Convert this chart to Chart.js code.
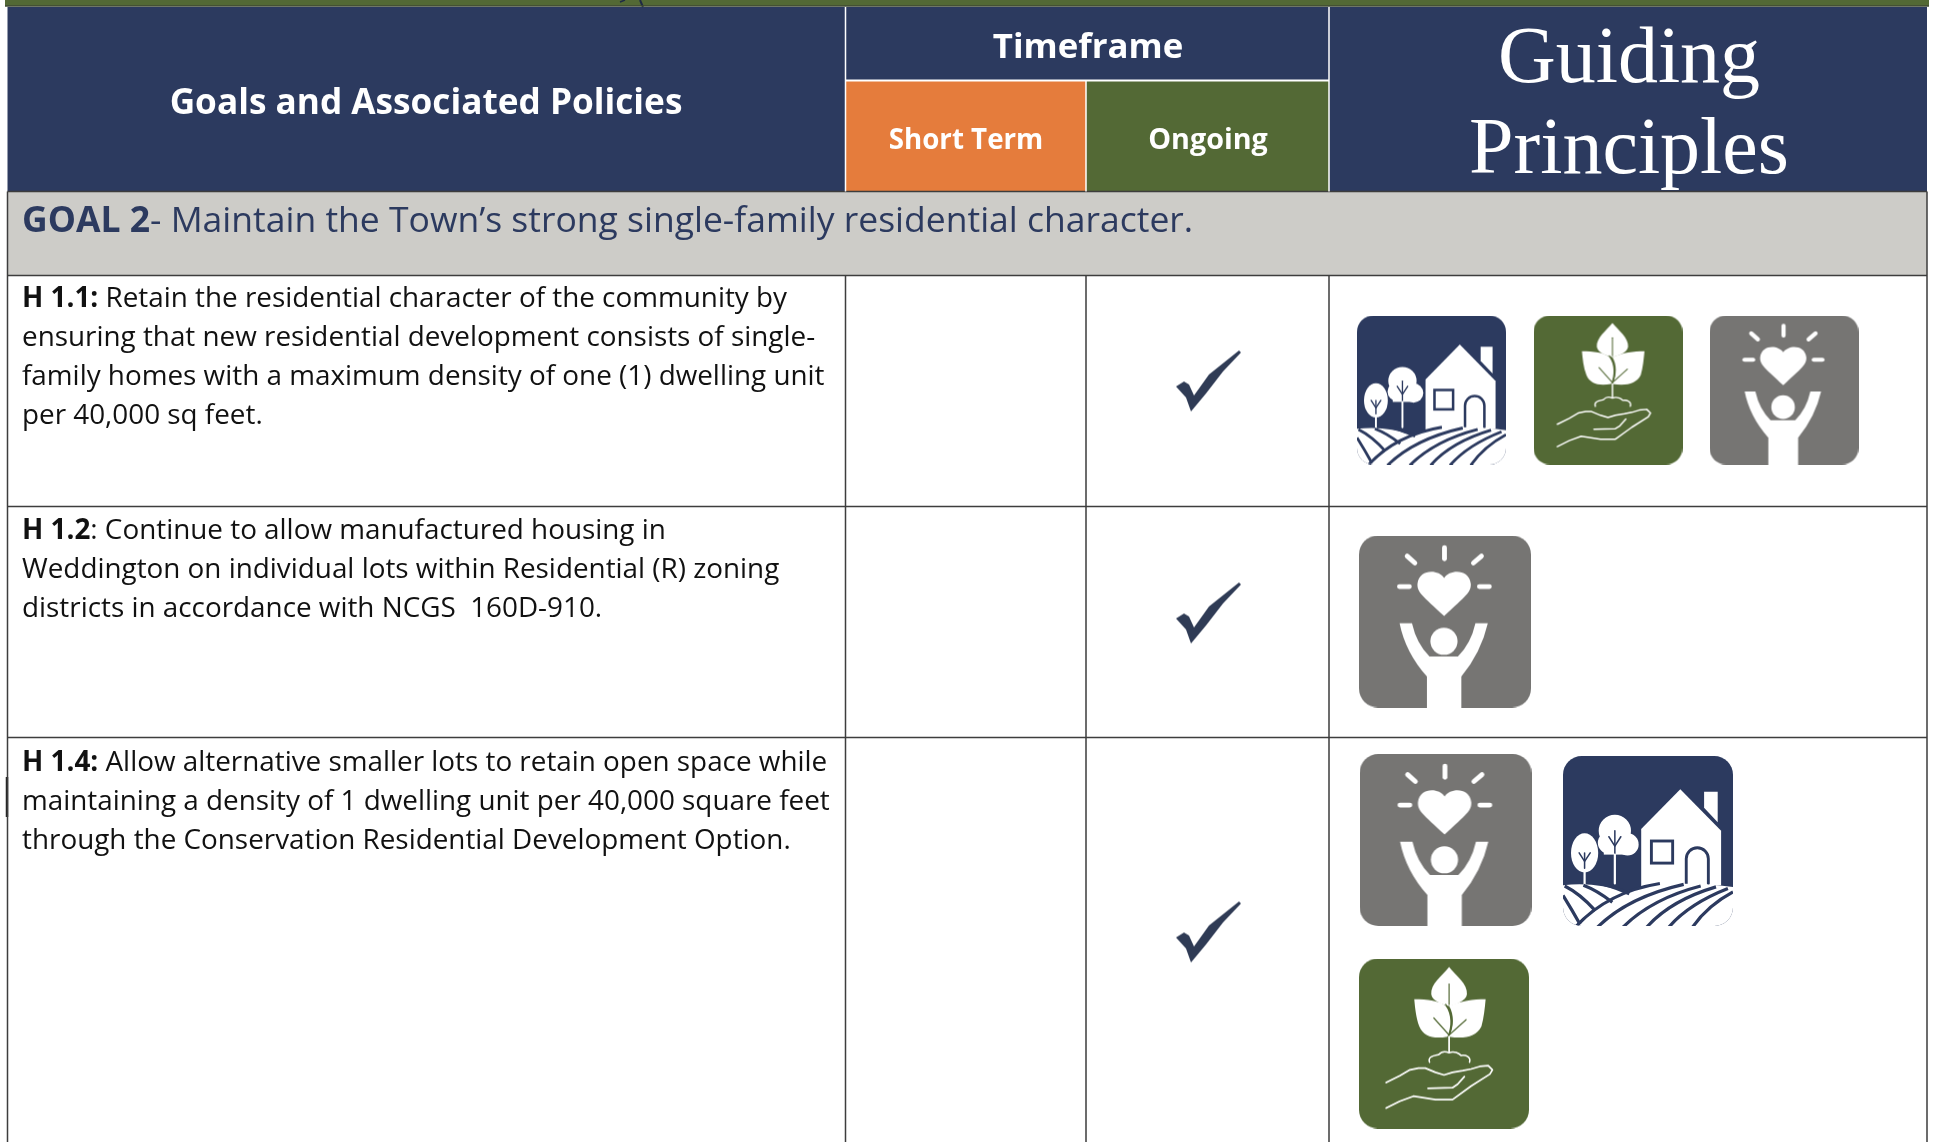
<!DOCTYPE html>
<html>
<head>
<meta charset="utf-8">
<title>Goals and Associated Policies</title>
<script src="https://cdn.jsdelivr.net/npm/chart.js@4"></script>
<style>
  html, body { margin: 0; padding: 0; background: #fff; }
  canvas { display: block; }
</style>
</head>
<body>
<canvas id="policyChart" width="1933" height="1142"></canvas>
<script>
// table content
const headerPolicies = "Goals and Associated Policies";
const headerTimeframe = "Timeframe";
const timeframeColumns = ["Short Term", "Ongoing"];
const headerPrinciples = ["Guiding", "Principles"];
const goalLabel = "GOAL 2";
const goalText = "- Maintain the Town\u2019s strong single-family residential character.";

const policyIds = ["H 1.1:", "H 1.2", "H 1.4:"];
const policyLines = [
  [" Retain the residential character of the community by",
   "ensuring that new residential development consists of single-",
   "family homes with a maximum density of one (1) dwelling unit",
   "per 40,000 sq feet."],
  [": Continue to allow manufactured housing in",
   "Weddington on individual lots within Residential (R) zoning",
   "districts in accordance with NCGS  160D-910."],
  [" Allow alternative smaller lots to retain open space while",
   "maintaining a density of 1 dwelling unit per 40,000 square feet",
   "through the Conservation Residential Development Option."]
];
// 1 = ticked
const shortTermChecks = [0, 0, 0];
const ongoingChecks = [1, 1, 1];
const policyPrinciples = [
  ["land", "growth", "people"],
  ["people"],
  ["people", "land", "growth"]
];

// layout, in page pixels
const colEdges = [7.5, 845.5, 1086, 1329, 1927];
const headerTop = 7, headerSplit = 80.5, headerBottom = 191.5, goalBottom = 275.5;
const rowEdges = [275.5, 506.5, 737.5, 1142];
const rowBaselines = [307, 539, 771];
const lineHeight = 39;
const checkY = [381, 613, 932];
// centre x, centre y, size of each icon, row by row
const iconBoxes = [
  [[1431.5, 390, 149], [1608, 390, 149], [1784, 390, 149]],
  [[1445, 621.5, 172]],
  [[1445.5, 840, 172], [1648, 841, 170], [1444, 1043.5, 170]]
];

const NAVY = "#2c3a5f", ORANGE = "#e57c3c", GREEN = "#536935", GOALGREY = "#cdccc8",
      ICONGREY = "#767573", RULE = "#3d3d3d", CHECK = "#2f3b55";
const BODY_FONT = '"Open Sans"';

function rectPoints(x0, y0, x1, y1) {
  return [{x: x0, y: y0}, {x: x1, y: y0}, {x: x1, y: y1}, {x: x0, y: y1}, {x: x0, y: y0}];
}
function cellDataset(x0, y0, x1, y1, color) {
  return { data: rectPoints(x0, y0, x1, y1), showLine: true, fill: "shape", backgroundColor: color,
           borderWidth: 0, borderColor: color, pointRadius: 0, order: 3 };
}
function ruleDataset(x0, y0, x1, y1, color, width) {
  return { data: [{x: x0, y: y0}, {x: x1, y: y1}], showLine: true, fill: false,
           borderColor: color, borderWidth: width, pointRadius: 0, order: 2 };
}

// offscreen drawings used as point styles
function makeSprite(w, h, draw) {
  const c = document.createElement("canvas");
  c.width = w; c.height = h;
  draw(c.getContext("2d"));
  return c;
}
function roundedPath(g, r) {
  g.beginPath();
  g.roundRect(0, 0, 100, 100, r);
}
function strokeLine(g, pts, width, color) {
  g.strokeStyle = color; g.lineWidth = width; g.lineCap = "round"; g.lineJoin = "round";
  g.beginPath();
  pts.forEach((p, i) => i ? g.lineTo(p[0], p[1]) : g.moveTo(p[0], p[1]));
  g.stroke();
}
function fillPoly(g, pts, color) {
  g.fillStyle = color;
  g.beginPath();
  pts.forEach((p, i) => i ? g.lineTo(p[0], p[1]) : g.moveTo(p[0], p[1]));
  g.closePath();
  g.fill();
}

function drawPeople(g) {
  roundedPath(g, 11); g.fillStyle = ICONGREY; g.fill();
  const w = "#fff";
  strokeLine(g, [[49.7, 7], [49.7, 13.5]], 2.8, w);
  strokeLine(g, [[28, 12], [32.5, 16]], 2.8, w);
  strokeLine(g, [[71.2, 12], [66.5, 16]], 2.8, w);
  strokeLine(g, [[23.5, 29.7], [29.3, 29.7]], 2.8, w);
  strokeLine(g, [[70, 29.7], [75.8, 29.7]], 2.8, w);
  // heart
  g.fillStyle = w;
  g.beginPath();
  g.moveTo(49.5, 24.7);
  g.bezierCurveTo(46, 19.5, 35, 19.5, 34, 28);
  g.bezierCurveTo(33.7, 33, 37, 35, 49.5, 46.8);
  g.bezierCurveTo(62, 35, 65.3, 33, 65, 28);
  g.bezierCurveTo(64, 19.5, 53, 19.5, 49.5, 24.7);
  g.fill();
  // person
  g.beginPath();
  g.arc(49.4, 61.5, 7.9, 0, Math.PI * 2);
  g.fill();
  g.beginPath();
  g.moveTo(23.6, 51);
  g.lineTo(30.8, 51);
  g.quadraticCurveTo(33.5, 63, 41, 70.3);
  g.lineTo(57.5, 70.3);
  g.quadraticCurveTo(65, 63, 67.7, 51);
  g.lineTo(74.9, 51);
  g.quadraticCurveTo(71, 68, 59.5, 82);
  g.lineTo(59.5, 100);
  g.lineTo(39.5, 100);
  g.lineTo(39.5, 82);
  g.quadraticCurveTo(27, 68, 23.6, 51);
  g.closePath();
  g.fill();
}

function drawGrowth(g) {
  roundedPath(g, 11); g.fillStyle = GREEN; g.fill();
  const w = "#fff";
  g.fillStyle = w;
  // top leaf
  g.beginPath();
  g.moveTo(53, 5);
  g.bezierCurveTo(57, 10, 64, 15, 63.5, 21);
  g.bezierCurveTo(63, 25, 57, 27, 53, 28);
  g.bezierCurveTo(49, 27, 43, 25, 42.5, 21);
  g.bezierCurveTo(42, 15, 49, 10, 53, 5);
  g.fill();
  // side leaves
  g.beginPath();
  g.moveTo(32.5, 24);
  g.bezierCurveTo(40, 24, 48, 25, 51, 28);
  g.bezierCurveTo(54.5, 33, 54.5, 40, 52, 46);
  g.bezierCurveTo(44, 47.5, 38, 46, 35.5, 40);
  g.bezierCurveTo(33.5, 35, 33, 29, 32.5, 24);
  g.fill();
  g.beginPath();
  g.moveTo(74.5, 24);
  g.bezierCurveTo(67, 24, 60, 25, 53, 28);
  g.bezierCurveTo(56, 33, 56, 40, 53, 46);
  g.bezierCurveTo(62, 47.5, 69, 46, 72, 40);
  g.bezierCurveTo(73.5, 35, 74, 29, 74.5, 24);
  g.fill();
  // veins and stem
  strokeLine(g, [[53, 15], [53, 27]], 0.7, GREEN);
  strokeLine(g, [[53, 45], [44, 35]], 0.7, GREEN);
  strokeLine(g, [[53, 45], [63, 36]], 0.7, GREEN);
  g.strokeStyle = GREEN; g.lineWidth = 0.7;
  g.beginPath(); g.moveTo(51, 27); g.quadraticCurveTo(57, 35, 53, 45); g.stroke();
  strokeLine(g, [[53, 46], [53, 55]], 1, w);
  // soil
  g.strokeStyle = w; g.lineWidth = 0.9;
  g.beginPath();
  g.moveTo(41.5, 61);
  g.bezierCurveTo(40, 57, 46, 57, 47, 56.5);
  g.bezierCurveTo(49, 54, 52, 55, 53, 55.5);
  g.bezierCurveTo(56, 54, 59, 56, 60, 57);
  g.bezierCurveTo(63, 56.5, 66, 58, 65, 61);
  g.stroke();
  // hand
  strokeLine(g, [[16, 73], [24, 69], [30, 65.5], [35, 64.5], [39, 64.5], [45, 67], [50, 68.5],
                 [55, 67], [61, 66], [66, 65], [71, 63.5], [76, 63], [78.5, 65.5], [77, 68],
                 [66, 75], [55, 83], [45, 83], [32, 81], [24, 84], [16, 88]], 1, w);
  strokeLine(g, [[40.6, 76.4], [55, 76], [58, 74], [62, 69.5]], 1, w);
}

function drawLand(g) {
  g.save();
  roundedPath(g, 11); g.clip();
  g.fillStyle = NAVY; g.fillRect(0, 0, 100, 100);
  const w = "#fff";
  // trees
  g.fillStyle = w;
  g.beginPath(); g.ellipse(12.7, 57, 8, 11.5, 0, 0, Math.PI * 2); g.fill();
  g.beginPath();
  g.arc(30.5, 44, 9.5, 0, Math.PI * 2);
  g.arc(27, 51, 6.5, 0, Math.PI * 2);
  g.fill();
  g.beginPath();
  g.arc(38, 52, 6.5, 0, Math.PI * 2);
  g.fill();
  g.fillRect(24, 48, 14, 10);
  strokeLine(g, [[12.7, 57], [12.7, 66]], 0.9, NAVY);
  strokeLine(g, [[9.5, 57], [12.7, 62], [16, 57]], 0.9, NAVY);
  strokeLine(g, [[12.7, 68], [12.7, 76]], 1.3, w);
  strokeLine(g, [[30.5, 44], [30.5, 58]], 0.9, NAVY);
  strokeLine(g, [[27, 47.5], [30.5, 53], [34, 47.5]], 0.9, NAVY);
  strokeLine(g, [[30.5, 58], [30.5, 75]], 1.3, w);
  // house
  fillPoly(g, [[69, 19.5], [93, 44], [93, 76], [46, 78], [46, 43]], w);
  fillPoly(g, [[83, 21], [91, 21], [91, 39], [83, 30.5]], w);
  g.strokeStyle = NAVY; g.lineWidth = 1.7; g.lineJoin = "miter";
  g.strokeRect(52, 50, 12.5, 13);
  g.beginPath();
  g.moveTo(72.5, 75);
  g.lineTo(72.5, 60.5);
  g.arc(79, 60.5, 6.5, Math.PI, 0);
  g.lineTo(85.5, 75);
  g.stroke();
  // fields
  g.fillStyle = w;
  g.beginPath();
  g.moveTo(0, 76);
  g.quadraticCurveTo(20, 74, 36, 80);
  g.quadraticCurveTo(60, 72, 100, 77);
  g.lineTo(100, 100);
  g.lineTo(0, 100);
  g.closePath();
  g.fill();
  g.strokeStyle = NAVY; g.lineWidth = 1.9; g.lineCap = "butt";
  const hill = [
    [7, 101, 26, 80, 57, 75], [20, 101, 38, 83, 71, 75.5], [35, 101, 52, 84, 81, 76.5],
    [49, 101, 63, 85, 90, 77], [62, 101, 74, 87, 97, 78], [76, 101, 85, 88, 100, 80]
  ];
  hill.forEach(h => {
    g.beginPath(); g.moveTo(h[0], h[1]); g.quadraticCurveTo(h[2], h[3], h[4], h[5]); g.stroke();
  });
  const left = [
    [0, 82, 5, 90, 10, 99], [1, 76.5, 10, 81, 19, 91], [12, 76, 20, 79, 29, 86], [24, 75.5, 30, 77, 39, 81]
  ];
  left.forEach(h => {
    g.beginPath(); g.moveTo(h[0], h[1]); g.quadraticCurveTo(h[2], h[3], h[4], h[5]); g.stroke();
  });
  g.restore();
}

const iconDrawers = { people: drawPeople, growth: drawGrowth, land: drawLand };
function makeIcon(kind, size) {
  const sharp = makeSprite(size, size, g => {
    g.scale(size / 100, size / 100);
    iconDrawers[kind](g);
  });
  // the icons are soft in the source
  return makeSprite(size, size, g => {
    g.filter = "blur(0.6px)";
    g.drawImage(sharp, 0, 0);
  });
}

const checkSprite = makeSprite(66, 63, g => {
  fillPoly(g, [[0, 37], [8, 32], [13, 35], [18, 46], [33, 25], [63, 1], [65, 3], [47, 22],
               [30, 44], [15, 62], [10, 48]], CHECK);
});

// cells, first one drawn on top
const cellDatasets = [
  cellDataset(colEdges[1], headerSplit, colEdges[2], headerBottom, ORANGE),
  cellDataset(colEdges[2], headerSplit, colEdges[3], headerBottom, GREEN),
  cellDataset(colEdges[0], headerBottom, colEdges[4], goalBottom, GOALGREY),
  cellDataset(colEdges[0], headerTop, colEdges[4], headerBottom, NAVY),
  cellDataset(5, 0, 1929, headerTop - 1, GREEN)
];

// table rules
const ruleDatasets = [
  ruleDataset(5, 6, 1929, 6, "#3f4a33", 1.5),
  ruleDataset(colEdges[1], headerTop, colEdges[1], headerBottom, "#fff", 1.5),
  ruleDataset(colEdges[3], headerTop, colEdges[3], headerBottom, "#fff", 1.5),
  ruleDataset(colEdges[2], headerSplit, colEdges[2], headerBottom, "#fff", 1.5),
  ruleDataset(colEdges[1], headerSplit, colEdges[3], headerSplit, "#fff", 2),
  ruleDataset(colEdges[0], headerBottom, colEdges[4], headerBottom, RULE, 1.5),
  ruleDataset(colEdges[0], headerBottom, colEdges[0], 1142, RULE, 1.5),
  ruleDataset(colEdges[4], headerBottom, colEdges[4], 1142, RULE, 1.5)
];
rowEdges.slice(0, 3).forEach(y => ruleDatasets.push(ruleDataset(colEdges[0], y, colEdges[4], y, RULE, 1.5)));
colEdges.slice(1, 4).forEach(x => ruleDatasets.push(ruleDataset(x, goalBottom, x, 1142, RULE, 1.5)));
// stray marks left in the scan
ruleDatasets.push(ruleDataset(7, 777, 7, 817, "#222", 2.5));
ruleDatasets.push(ruleDataset(640, 0, 643, 7, "#1f2a45", 2));
ruleDatasets.push(ruleDataset(620, 2, 625, 0, "#1f2a45", 1.5));

// ticks in the timeframe columns
const columnCentreX = 1209;
const checkData = [];
[shortTermChecks, ongoingChecks].forEach((col, c) => {
  col.forEach((v, r) => {
    if (v) checkData.push({x: c === 1 ? columnCentreX : 966, y: checkY[r]});
  });
});

// principle icons
const iconData = [];
const iconStyles = [];
policyPrinciples.forEach((list, r) => {
  list.forEach((kind, i) => {
    const b = iconBoxes[r][i];
    iconData.push({x: b[0], y: b[1]});
    iconStyles.push(makeIcon(kind, b[2]));
  });
});

const tableText = {
  id: "tableText",
  afterDatasetsDraw(chart) {
    const ctx = chart.ctx, X = chart.scales.x, Y = chart.scales.y;
    const put = (s, x, y, font, color, align) => {
      ctx.font = font; ctx.fillStyle = color; ctx.textAlign = align || "left";
      ctx.fillText(s, X.getPixelForValue(x), Y.getPixelForValue(y));
      return ctx.measureText(s).width;
    };
    ctx.save();
    ctx.textBaseline = "alphabetic";
    put(headerPolicies, 426, 114, `bold 35.2px ${BODY_FONT}`, "#fff", "center");
    put(headerTimeframe, 1088, 58, `bold 34.8px ${BODY_FONT}`, "#fff", "center");
    put(timeframeColumns[0], 966, 149, `bold 27.7px ${BODY_FONT}`, "#fff", "center");
    put(timeframeColumns[1], 1208, 149, `bold 28.7px ${BODY_FONT}`, "#fff", "center");
    put(headerPrinciples[0], 1629, 82, '80px "Liberation Serif"', "#fff", "center");
    put(headerPrinciples[1], 1629, 173, '80px "Liberation Serif"', "#fff", "center");

    const gw = put(goalLabel, 22, 232, `bold 35.5px ${BODY_FONT}`, NAVY);
    put(goalText, 22 + gw, 232, `35.5px ${BODY_FONT}`, NAVY);

    policyIds.forEach((id, r) => {
      const base = rowBaselines[r];
      const w = put(id, 22, base, `bold 27.85px ${BODY_FONT}`, "#111");
      policyLines[r].forEach((line, i) => {
        put(line, i === 0 ? 22 + w : 22, base + i * lineHeight, `27.85px ${BODY_FONT}`, "#111");
      });
    });
    ctx.restore();
  }
};

new Chart(document.getElementById("policyChart"), {
  type: "scatter",
  data: {
    datasets: [
      { data: checkData, pointStyle: checkSprite, pointRadius: 1, order: 0 },
      { data: iconData, pointStyle: c => iconStyles[c.dataIndex], pointRadius: 1, order: 0 },
      ...ruleDatasets,
      ...cellDatasets
    ]
  },
  options: {
    responsive: false,
    animation: false,
    layout: { padding: 0, autoPadding: false },
    plugins: { legend: { display: false }, tooltip: { enabled: false }, title: { display: false } },
    scales: {
      x: { type: "linear", min: 0, max: 1933, display: false },
      y: { type: "linear", min: 0, max: 1142, reverse: true, display: false }
    }
  },
  plugins: [tableText]
});
</script>
</body>
</html>
